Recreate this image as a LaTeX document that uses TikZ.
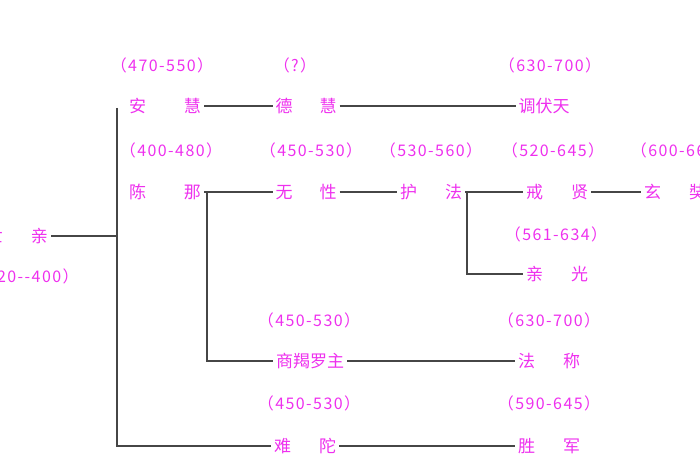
\documentclass[tikz,border=0pt]{standalone}
\usepackage{xcolor}
\usepackage{fontspec}
\setmainfont{Noto Sans CJK SC}
\newfontfamily\yearfont[LetterSpace=9]{Noto Sans CJK SC}
\usepackage{tikz}
\usetikzlibrary{positioning}
\definecolor{namepink}{RGB}{238,48,238}
\definecolor{linegray}{RGB}{70,70,70}

\begin{document}
\begin{tikzpicture}[x=1pt,y=-1pt,
  person/.style={inner sep=3pt,outer sep=0pt,text=namepink,font=\fontsize{17}{17}\selectfont},
  lifespan/.style={inner sep=0pt,text=namepink,font=\yearfont\fontsize{16}{16}\selectfont},
  link/.style={draw=linegray,line width=1.4pt}]
\useasboundingbox (0,0) rectangle (700,470);
\clip (0,0) rectangle (700,470);
% years
\node at (162,65) (y1) [lifespan] {（470-550）};
\node at (295,65) (y2) [lifespan] {（?）};
\node at (550,65) (y3) [lifespan] {（630-700）};
\node at (171,150) (y4) [lifespan] {（400-480）};
\node at (311,150) (y5) [lifespan] {（450-530）};
\node at (431,150) (y6) [lifespan] {（530-560）};
\node at (553,150) (y7) [lifespan] {（520-645）};
\node at (682,150) (y8) [lifespan] {（600-664）};
\node at (556,234) (y9) [lifespan] {（561-634）};
\node at (24,276) (y10) [lifespan] {（320-{}-400）};
\node at (309,320) (y11) [lifespan] {（450-530）};
\node at (549,320) (y12) [lifespan] {（630-700）};
\node at (309,403) (y13) [lifespan] {（450-530）};
\node at (549,403) (y14) [lifespan] {（590-645）};
% names
\node at (165,106) (anhui) [person] {安\hspace{38pt}慧};
\node at (306,106) (dehui) [person] {德\hspace{27pt}慧};
\node at (544,106) (tiaofu) [person] {调伏天};
\node at (17,236) (shiqin) [person] {世\hspace{28pt}亲};
\node at (165,192) (chenna) [person] {陈\hspace{38pt}那};
\node at (306,192) (wuxing) [person] {无\hspace{27pt}性};
\node at (431,192) (hufa) [person] {护\hspace{28pt}法};
\node at (557,192) (jiexian) [person] {戒\hspace{28pt}贤};
\node at (675,192) (xuanzang) [person] {玄\hspace{28pt}奘};
\node at (557,274) (qinguang) [person] {亲\hspace{28pt}光};
\node at (310,361) (shangjie) [person] {商羯罗主};
\node at (549,361) (facheng) [person] {法\hspace{28pt}称};
\node at (305,446) (nantuo) [person] {难\hspace{28pt}陀};
\node at (549,446) (shengjun) [person] {胜\hspace{28pt}军};
% lines
\coordinate (trunk) at (117,108);
\coordinate (cj) at ([xshift=3pt]chenna.east);
\coordinate (hj) at ([xshift=2pt]hufa.east);
\path[link] (anhui) edge (dehui);
\path[link] (dehui) edge (tiaofu);
\path[link] (chenna) edge (wuxing);
\path[link] (wuxing) edge (hufa);
\path[link] (hufa) edge (jiexian);
\path[link] (jiexian) edge (xuanzang);
\path[link] (shangjie) edge (facheng);
\path[link] (nantuo) edge (shengjun);
\draw[link] (shiqin.east) -- (shiqin.east -| trunk);
\draw[link] (trunk) |- (nantuo.west);
\draw[link] (cj) |- (shangjie.west);
\draw[link] (hj) |- (qinguang.west);
\end{tikzpicture}
\end{document}
